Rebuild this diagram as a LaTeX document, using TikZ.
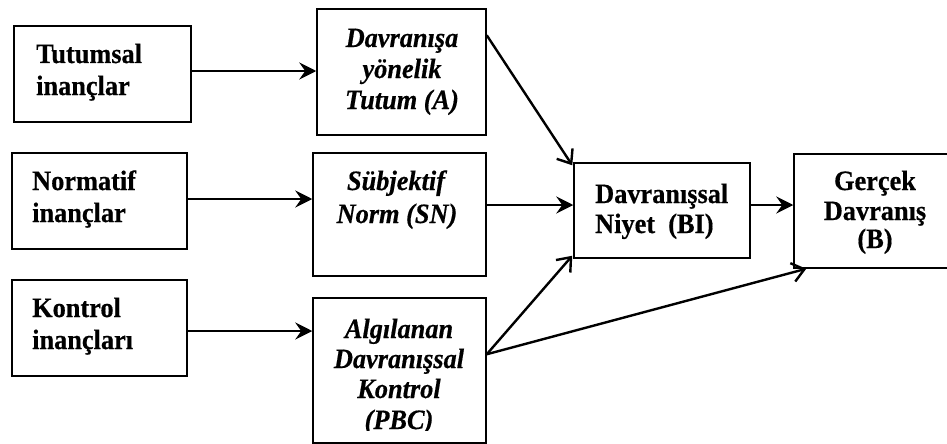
\documentclass[tikz,border=0pt]{standalone}
\usepackage{fontspec}
\setmainfont{Liberation Serif}[FakeStretch=0.94, FakeBold=0.5]
\usetikzlibrary{arrows.meta,calc}
\begin{document}
\begin{tikzpicture}[x=1pt,y=1pt,
  box/.style={draw, line width=1.5pt, inner sep=0pt, rectangle},
  lbl/.style={inner sep=0pt, font=\fontsize{28}{31}\selectfont\bfseries},
  ilbl/.style={inner sep=0pt, font=\fontsize{28}{31}\selectfont\bfseries\itshape},
  harrow/.style={line width=2.4pt, -{Stealth[length=17pt,width=17pt,inset=6pt]}},
  darrow/.style={line width=2.4pt, -{Straight Barb[length=12pt,width=19pt,line width=2.4pt]}}]
\useasboundingbox (0,0) rectangle (947,-444);
% boxes
\node[box, minimum width=177pt, minimum height=96pt] (t1) at (102.5,-74) {};
\node[box, minimum width=169pt, minimum height=126pt] (A) at (401.5,-72) {};
\node[box, minimum width=175pt, minimum height=96pt] (n1) at (99.5,-201) {};
\node[box, minimum width=173pt, minimum height=123pt] (SN) at (399.5,-214.5) {};
\node[box, minimum width=175pt, minimum height=96pt] (k1) at (99.5,-328) {};
\node[box, minimum width=173pt, minimum height=145pt] (PBC) at (399.5,-370.5) {};
\node[box, minimum width=176pt, minimum height=95pt] (BI) at (662,-210.5) {};
\node[box, minimum width=162pt, minimum height=114pt] (B) at (875,-211) {};
% texts
\node[lbl, anchor=base west] (t1a) at (36,-63) {Tutumsal};
\node[lbl, anchor=base west] (t1b) at (36,-95) {inançlar};
\node[ilbl, anchor=base] (Aa) at (402,-47) {Davranışa};
\node[ilbl, anchor=base] (Ab) at (402,-78) {yönelik};
\node[ilbl, anchor=base] (Ac) at (402,-109) {Tutum (A)};
\node[lbl, anchor=base west] (n1a) at (32,-190) {Normatif};
\node[lbl, anchor=base west] (n1b) at (32,-222) {inançlar};
\node[ilbl, anchor=base] (SNa) at (396,-190) {Sübjektif};
\node[ilbl, anchor=base] (SNb) at (397,-223) {Norm (SN)};
\node[lbl, anchor=base west] (k1a) at (32,-317) {Kontrol};
\node[lbl, anchor=base west] (k1b) at (32,-349) {inançları};
\begin{scope}
\clip (313,-298) rectangle (486,-430);
\node[ilbl, anchor=base] (Pa) at (399,-338) {Algılanan};
\node[ilbl, anchor=base] (Pb) at (399,-368) {Davranışsal};
\node[ilbl, anchor=base] (Pc) at (399,-398) {Kontrol};
\node[ilbl, anchor=base] (Pd) at (399,-429) {(PBC)};
\end{scope}
\node[lbl, anchor=base west] (BIa) at (595,-203) {Davranışsal};
\node[lbl, anchor=base west] (BIb) at (595,-233) {Niyet\ \ (BI)};
\node[lbl, anchor=base] (Ba) at (875,-190) {Gerçek};
\node[lbl, anchor=base] (Bb) at (875,-220) {Davranış};
\node[lbl, anchor=base] (Bc) at (875,-248) {(B)};
% connectors
\draw[harrow] ([yshift=3pt]t1.east) -- ([yshift=3pt]t1.east -| A.west);
\draw[harrow] ([yshift=2pt]n1.east) -- ([yshift=2pt]n1.east -| SN.west);
\draw[harrow] ([yshift=-3pt]k1.east) -- ([yshift=-3pt]k1.east -| PBC.west);
\draw[harrow] ([yshift=9.5pt]SN.east) -- ([yshift=9.5pt]SN.east -| BI.west);
\draw[harrow] ([yshift=5.5pt]BI.east) -- ([yshift=5.5pt]BI.east -| B.west);
\draw[darrow] ([yshift=-27pt]A.north east) -- ([shift={(-1pt,-3pt)}]BI.north west);
\coordinate (p0) at ([yshift=-57pt]PBC.north east);
\draw[darrow] (p0) -- ([shift={(-1pt,3pt)}]BI.south west);
\draw[darrow] (p0) -- ([xshift=13pt]B.south west);
\end{tikzpicture}
\end{document}
